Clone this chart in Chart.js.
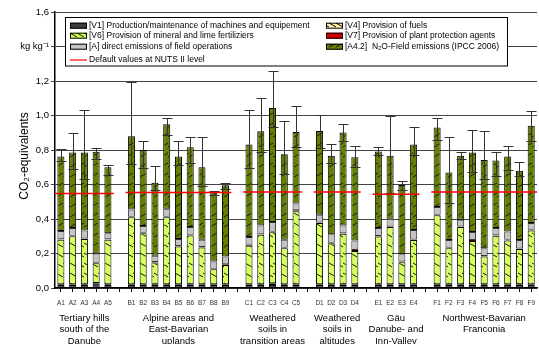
<!DOCTYPE html>
<html>
<head>
<meta charset="utf-8">
<script src="https://cdn.jsdelivr.net/npm/chart.js@4.4.1/dist/chart.umd.min.js"></script>
<style>
  body { margin: 0; overflow: hidden; background: #fff; }
  #wrap { width: 542px; height: 344px; }
</style>
</head>
<body>
<div id="wrap"><canvas id="grafico_co2"></canvas></div>
<script>
// categorias (string vazia = espaço entre grupos)
const labels = ['A1', 'A2', 'A3', 'A4', 'A5', '',
    'B1', 'B2', 'B3', 'B4', 'B5', 'B6', 'B7', 'B8', 'B9', '',
    'C1', 'C2', 'C3', 'C4', 'C5', '',
    'D1', 'D2', 'D3', 'D4', '',
    'E1', 'E2', 'E3', 'E4', '',
    'F1', 'F2', 'F3', 'F4', 'F5', 'F6', 'F7', 'F8', 'F9']

// [V1] máquinas
const v1 = [0.018, 0.018, 0.018, 0.025, 0.018, null,
    0.018, 0.018, 0.018, 0.018, 0.018, 0.018, 0.018, 0.018, 0.018, null,
    0.018, 0.018, 0.018, 0.018, 0.018, null,
    0.018, 0.018, 0.018, 0.018, null,
    0.018, 0.018, 0.018, 0.018, null,
    0.018, 0.018, 0.018, 0.018, 0.018, 0.018, 0.018, 0.018, 0.018]
// [V4] combustíveis
const v4 = [0.004, 0.004, 0.004, 0.004, 0.004, null,
    0.004, 0.004, 0.004, 0.004, 0.004, 0.004, 0.004, 0.004, 0.004, null,
    0.004, 0.004, 0.010, 0.004, 0.004, null,
    0.004, 0.004, 0.004, 0.004, null,
    0.004, 0.004, 0.004, 0.004, null,
    0.004, 0.004, 0.004, 0.004, 0.004, 0.004, 0.004, 0.004, 0.004]
// [V6] fertilizantes
const v6 = [0.258, 0.278, 0.262, 0.115, 0.258, null,
    0.388, 0.296, 0.126, 0.388, 0.218, 0.283, 0.213, 0.087, 0.112, null,
    0.223, 0.287, 0.295, 0.209, 0.423, null,
    0.355, 0.238, 0.293, 0.193, null,
    0.277, 0.332, 0.128, 0.256, null,
    0.400, 0.209, 0.332, 0.250, 0.161, 0.281, 0.254, 0.204, 0.312]
// [V7] defensivos
const v7 = [0.003, 0.003, 0.003, 0.003, 0.003, null,
    0.003, 0.003, 0.003, 0.003, 0.003, 0.003, 0.003, 0.003, 0.003, null,
    0.006, 0.003, 0.003, 0.003, 0.006, null,
    0.003, 0.003, 0.003, 0.006, null,
    0.003, 0.003, 0.003, 0.003, null,
    0.003, 0.003, 0.003, 0.006, 0.003, 0.003, 0.003, 0.003, 0.003]
// [A] emissões diretas
const vA = [0.047, 0.045, 0.047, 0.053, 0.035, null,
    0.042, 0.039, 0.036, 0.046, 0.041, 0.046, 0.042, 0.041, 0.046, null,
    0.045, 0.051, 0.057, 0.046, 0.039, null,
    0.044, 0.048, 0.045, 0.055, null,
    0.046, 0.045, 0.043, 0.055, null,
    0.045, 0.044, 0.038, 0.047, 0.045, 0.042, 0.049, 0.049, 0.040]
// [A4.2] N2O no campo
const vA42 = [0.432, 0.437, 0.451, 0.590, 0.382, null,
    0.424, 0.440, 0.423, 0.491, 0.478, 0.462, 0.420, 0.405, 0.412, null,
    0.536, 0.545, 0.661, 0.496, 0.414, null,
    0.486, 0.455, 0.539, 0.482, null,
    0.443, 0.364, 0.401, 0.496, null,
    0.461, 0.391, 0.371, 0.460, 0.511, 0.391, 0.434, 0.402, 0.563]

// barras de erro (mínimo / máximo)
const errLow = [0.736, 0.690, 0.630, 0.745, 0.655, null,
    0.720, 0.696, 0.567, 0.886, 0.711, 0.725, 0.590, 0.538, 0.575, null,
    0.698, 0.787, 0.931, 0.659, 0.820, null,
    0.809, 0.723, 0.853, 0.702, null,
    0.771, 0.552, 0.571, 0.770, null,
    0.859, 0.492, 0.746, 0.671, 0.630, 0.651, 0.684, 0.651, 0.853]
const errHigh = [0.805, 0.900, 1.030, 0.810, 0.715, null,
    1.197, 0.853, 0.705, 0.983, 0.850, 0.873, 0.877, 0.560, 0.608, null,
    1.034, 1.104, 1.258, 0.970, 1.054, null,
    1.005, 0.834, 0.949, 0.824, null,
    0.816, 0.995, 0.620, 0.931, null,
    0.987, 0.877, 0.789, 0.914, 0.908, 0.791, 0.824, 0.733, 1.024]

// grupos: índice inicial, final, valor padrão NUTS II e rótulo
const groupStart = [0, 6, 16, 22, 27, 32]
const groupEnd = [4, 14, 20, 25, 30, 40]
const nutsValues = [0.548, 0.554, 0.556, 0.556, 0.544, 0.556]
const groupLabels = [
    ['Tertiary hills', 'south of the', 'Danube'],
    ['Alpine areas and', 'East-Bavarian', 'uplands'],
    ['Weathered', 'soils in', 'transition areas'],
    ['Weathered', 'soils in', 'altitudes'],
    ['Gäu', 'Danube- and', 'Inn-Valley'],
    ['Northwest-Bavarian', 'Franconia']
]

const fonte = "'Liberation Sans', Arial, sans-serif"

const hachura = (fundo, linha, direcao) => {
    const c = document.createElement('canvas')
    c.width = 7
    c.height = 10
    const g = c.getContext('2d')
    g.fillStyle = fundo
    g.fillRect(0, 0, 7, 10)
    g.strokeStyle = linha
    g.lineWidth = 1
    g.beginPath()
    if (direcao == '\\') {
        g.moveTo(0, 3); g.lineTo(7, 7)
    } else {
        g.moveTo(0, 7); g.lineTo(7, 3)
    }
    g.stroke()
    return g.createPattern(c, 'repeat')
}

const corV1 = '#3c3c3c'
const corV4 = hachura('#fff5b0', '#000', '\\')
const corV6 = hachura('#d4ff5c', '#1a1a00', '\\')
const corV7 = '#d00000'
const corA = '#c4c4c4'
const corA42 = hachura('#648000', '#172000', '/')

const extras = {
    id: 'extras',
    afterDatasetsDraw(chart) {
        const { ctx, scales: { x, y } } = chart
        ctx.save()
        // barras de erro
        ctx.strokeStyle = '#333'
        ctx.lineWidth = 1
        for (let i = 0; i < labels.length; i++) {
            if (errLow[i] == null) continue
            const px = Math.round(x.getPixelForValue(i)) + 0.5
            const yl = Math.round(y.getPixelForValue(errLow[i])) + 0.5
            const yh = Math.round(y.getPixelForValue(errHigh[i])) + 0.5
            ctx.beginPath()
            ctx.moveTo(px, yl); ctx.lineTo(px, yh)
            ctx.moveTo(px - 5, yl); ctx.lineTo(px + 5, yl)
            ctx.moveTo(px - 5, yh); ctx.lineTo(px + 5, yh)
            ctx.stroke()
        }
        // valores padrão NUTS II
        ctx.strokeStyle = '#ff0000'
        ctx.lineWidth = 1.5
        for (let g = 0; g < nutsValues.length; g++) {
            const yy = y.getPixelForValue(nutsValues[g])
            ctx.beginPath()
            ctx.moveTo(x.getPixelForValue(groupStart[g] - 0.5), yy)
            ctx.lineTo(x.getPixelForValue(groupEnd[g] + 0.5), yy)
            ctx.stroke()
        }
        ctx.restore()
    },
    afterDraw(chart) {
        const { ctx, scales: { x } } = chart
        ctx.save()
        // rótulos dos grupos
        ctx.fillStyle = '#000'
        ctx.font = '9.5px ' + fonte
        ctx.textAlign = 'center'
        ctx.textBaseline = 'middle'
        for (let g = 0; g < groupLabels.length; g++) {
            const cx = x.getPixelForValue((groupStart[g] + groupEnd[g]) / 2)
            groupLabels[g].forEach((linha, k) => ctx.fillText(linha, cx, 318 + k * 11.5))
        }
        // título do eixo y
        ctx.save()
        ctx.translate(28, 156)
        ctx.rotate(-Math.PI / 2)
        ctx.textBaseline = 'alphabetic'
        ctx.font = '12px ' + fonte
        ctx.fillText('CO₂-equivalents', 0, 0)
        ctx.restore()

        // legenda
        ctx.fillStyle = '#fff'
        ctx.fillRect(65.5, 17.5, 442, 48.5)
        ctx.strokeStyle = '#000'
        ctx.lineWidth = 1
        ctx.strokeRect(65.5, 17.5, 442, 48.5)
        const itens = [
            [70, 25.7, corV1, '[V1] Production/maintenance of machines and equipement'],
            [70, 35.7, corV6, '[V6] Provision of mineral and lime fertiliziers'],
            [70, 46.7, corA, '[A] direct emissions of field operations'],
            [70, 60, null, 'Default values at NUTS II level'],
            [326, 25.7, corV4, '[V4] Provision of fuels'],
            [326, 35.7, corV7, '[V7] Provision of plant protection agents'],
            [326, 46.7, corA42, '[A4.2]  N₂O-Field emissions (IPCC 2006)']
        ]
        ctx.font = '8.5px ' + fonte
        ctx.textAlign = 'left'
        itens.forEach(([lx, ly, cor, texto]) => {
            if (cor) {
                ctx.fillStyle = cor
                ctx.fillRect(lx, ly - 3, 17, 6)
                ctx.strokeStyle = '#000'
                ctx.strokeRect(lx + 0.5, ly - 3 + 0.5, 16, 5)
            } else {
                ctx.strokeStyle = '#ff0000'
                ctx.lineWidth = 1.2
                ctx.beginPath()
                ctx.moveTo(lx, ly); ctx.lineTo(lx + 17, ly)
                ctx.stroke()
                ctx.lineWidth = 1
            }
            ctx.fillStyle = '#000'
            ctx.fillText(texto, lx + 19, ly)
        })
        ctx.restore()
    }
}

const conjunto = (label, data, cor, borda) => ({
    label,
    data,
    backgroundColor: cor,
    borderColor: borda,
    borderWidth: 1,
    borderSkipped: false,
    categoryPercentage: 1,
    barPercentage: 0.6
})

const ctx = document.querySelector('#grafico_co2')
const chart = new Chart(ctx, {
    type: 'bar',
    data: {
        labels,
        datasets: [
            conjunto('[V1]', v1, corV1, '#000'),
            conjunto('[V4]', v4, corV4, '#000'),
            conjunto('[V6]', v6, corV6, '#000'),
            conjunto('[V7]', v7, corV7, '#300'),
            conjunto('[A]', vA, corA, '#333'),
            conjunto('[A4.2]', vA42, corA42, '#000')
        ]
    },
    options: {
        responsive: true,
        maintainAspectRatio: false,
        animation: false,
        layout: { padding: { top: 12, right: 0, left: 0, bottom: 0 } },
        plugins: {
            legend: { display: false },
            tooltip: { enabled: false }
        },
        scales: {
            x: {
                stacked: true,
                offset: true,
                grid: { drawOnChartArea: false, drawTicks: true, tickLength: 4, color: '#000', offset: false },
                border: { color: '#000', width: 1.5 },
                ticks: { font: { family: fonte, size: 6.5 }, color: '#333', maxRotation: 0, autoSkip: false, padding: 7 },
                afterFit: (s) => { s.height = 56 }
            },
            y: {
                stacked: true,
                min: 0,
                max: 1.6,
                ticks: {
                    stepSize: 0.2,
                    font: { family: fonte, size: 9.5 },
                    color: '#000',
                    padding: 2,
                    callback: (v) => Math.abs(v - 1.4) < 1e-6 ? 'kg kg⁻¹' : v.toFixed(1).replace('.', ',')
                },
                grid: { color: '#444', tickLength: 4 },
                border: { color: '#000', width: 1.5 },
                afterFit: (s) => { s.width = 55 }
            }
        }
    },
    plugins: [extras]
})
</script>
</body>
</html>
